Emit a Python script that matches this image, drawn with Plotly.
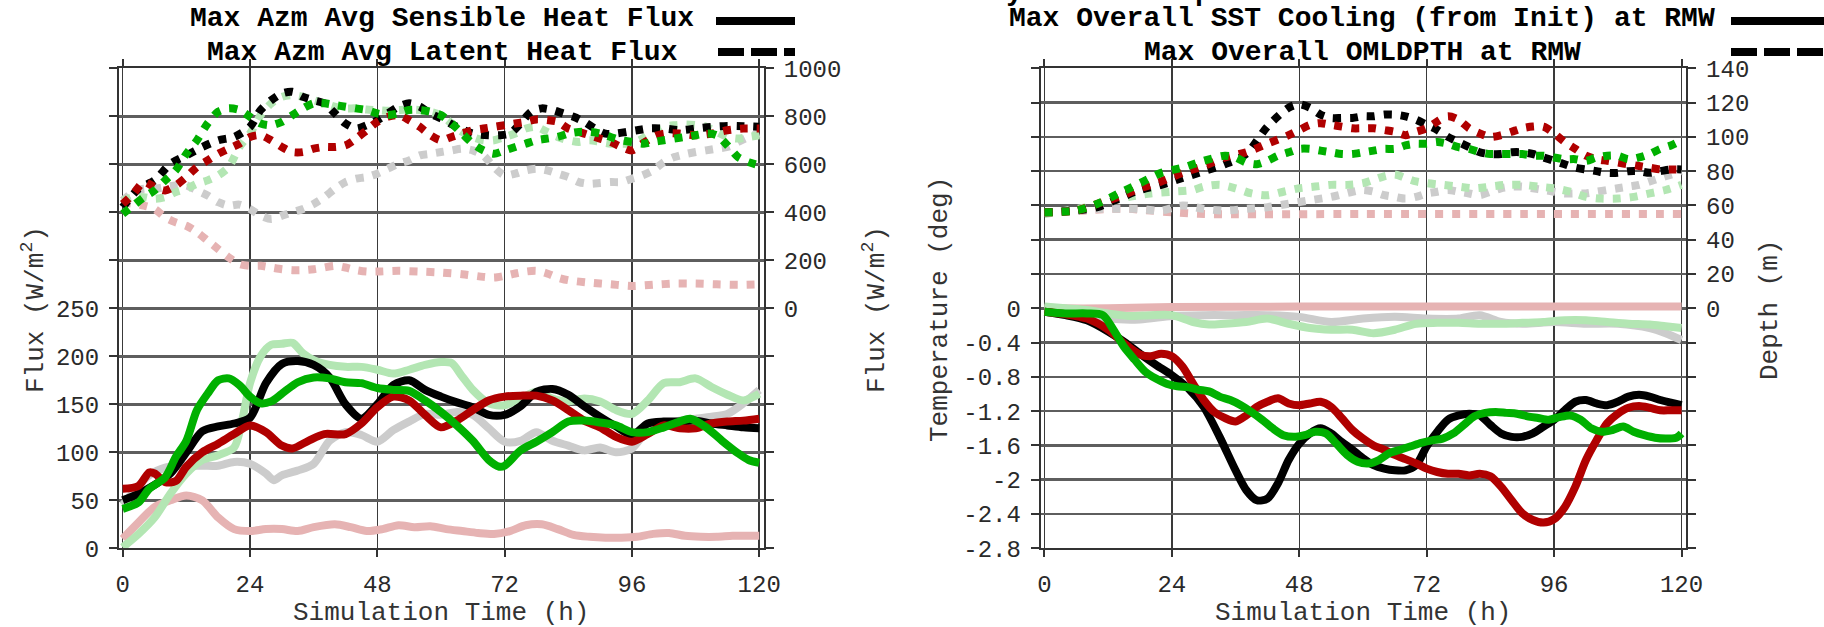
import plotly.graph_objects as go

# ---------------- data (t [h], value) ----------------
# Left panel: Max Azm Avg Sensible Heat Flux (solid, left axis, W/m2)
sens_black = [(0,50),(3,57),(6,66),(9,78),(12,100),(15,122),(18,127),(21,130),(24,136),(27,172),(30,192),(33,195),(36,191),(39,178),(42,150),(45,135),(48,150),(51,170),(54,175),(57,165),(60,158),(63,152),(66,147),(69,139),(72,139),(75,148),(78,163),(81,166),(84,160),(87,148),(90,137),(93,127),(96,118),(99,130),(102,132),(105,132),(108,133),(111,130),(114,128),(117,126),(120,125)]
sens_red = [(0,62),(3,65),(5,79),(6,78),(8,69),(10,70),(12,85),(15,100),(18,109),(21,119),(24,128),(27,121),(30,107),(32,104),(35,112),(38,119),(42,119),(45,130),(48,147),(51,158),(54,154),(57,139),(60,126),(63,133),(66,144),(69,154),(72,158),(75,159),(78,159),(81,154),(84,144),(87,133),(90,126),(93,116),(96,111),(99,119),(102,128),(105,125),(108,125),(111,130),(114,132),(117,133),(120,135)]
sens_green = [(0,41),(3,48),(5,62),(8,74),(10,95),(12,112),(14,144),(16,161),(18,175),(20,177),(22,170),(24,158),(26,151),(28,153),(30,161),(33,173),(36,178),(39,177),(42,173),(45,172),(48,167),(51,165),(54,164),(57,154),(60,142),(63,128),(66,112),(69,92),(71,85),(72,86),(75,102),(78,111),(81,121),(84,132),(87,133),(90,131),(93,128),(96,121),(99,121),(102,126),(105,132),(107,135),(110,126),(113,112),(116,99),(118,92),(120,89)]
sens_gray = [(0,45),(3,65),(5,76),(8,84),(12,86),(15,86),(18,86),(21,90),(24,88),(27,78),(28.5,71),(30,76),(33,81),(36,88),(39,112),(42,121),(45,118),(48,111),(51,123),(54,132),(57,140),(60,139),(63,142),(66,139),(69,125),(72,111),(75,112),(78,121),(81,112),(84,107),(87,102),(90,105),(93,100),(96,104),(99,123),(102,128),(105,133),(108,135),(111,137),(114,140),(117,151),(120,165)]
sens_lgreen = [(0,1),(3,15),(6,32),(9,57),(12,78),(15,92),(18,97),(21,105),(22.5,133),(24,172),(26,200),(28,212),(30,213),(32,214),(34,203),(36,196),(39,191),(42,189),(45,189),(48,186),(51,182),(54,186),(57,191),(60,194),(62,193),(64,179),(66,165),(69,151),(72,149),(75,156),(78,163),(81,156),(84,153),(87,156),(90,153),(93,144),(96,140),(99,154),(102,172),(105,173),(108,177),(111,168),(114,160),(117,154),(120,161)]
sens_pink = [(0,10),(3,27),(6,43),(9,50),(12,55),(15,50),(18,32),(21,20),(24,18),(27,20),(30,20),(33,18),(36,22),(40,25),(43,22),(46,18),(49,20),(52,24),(55,22),(58,23),(61,20),(64,18),(67,16),(70,15),(73,18),(76,24),(79,25),(82,20),(85,14),(88,12),(91,11),(94,11),(97,12),(100,15),(103,16),(106,13),(109,12),(112,12),(115,13),(118,13),(120,13)]

# Left panel: Max Azm Avg Latent Heat Flux (dotted, right axis, W/m2)
lat_black = [(0,421),(3,498),(6,533),(9,602),(12,637),(15,672),(18,700),(21,714),(24,756),(26,826),(28,867),(30,895),(32,902),(34,881),(36,867),(38,854),(40,812),(42,770),(44,749),(46,763),(48,784),(50,812),(52,840),(54,854),(56,840),(58,812),(60,791),(63,756),(66,728),(69,721),(71,721),(73,728),(75,770),(77,819),(79,833),(81,826),(83,812),(85,798),(87,777),(89,749),(91,728),(93,728),(95,735),(97,742),(99,749),(102,749),(105,742),(108,749),(111,756),(114,760),(117,759),(120,756)]
lat_red = [(0,435),(2,477),(4,526),(6,505),(8,491),(10,512),(12,547),(14,589),(16,616),(18,644),(20,665),(22,686),(24,714),(26,721),(28,700),(30,672),(32,651),(34,651),(36,665),(38,672),(40,672),(42,679),(44,707),(46,742),(48,777),(50,798),(52,805),(54,784),(56,756),(58,721),(60,700),(62,714),(64,728),(66,742),(68,749),(70,756),(72,763),(74,770),(76,777),(78,787),(80,784),(82,777),(84,749),(86,735),(88,721),(90,707),(92,693),(94,672),(96,658),(98,686),(100,714),(102,728),(105,728),(108,721),(111,728),(114,742),(117,749),(120,749)]
lat_green = [(0,393),(2,428),(4,463),(6,491),(8,533),(10,575),(12,644),(14,700),(16,770),(18,819),(20,833),(22,826),(24,798),(26,770),(28,763),(30,777),(32,805),(34,833),(36,854),(38,854),(40,847),(42,840),(44,833),(46,826),(48,812),(50,805),(52,812),(54,826),(56,826),(58,819),(60,805),(62,770),(64,728),(66,686),(68,658),(70,644),(72,658),(74,672),(76,686),(78,700),(80,707),(82,714),(84,728),(86,735),(88,735),(90,728),(92,714),(94,700),(96,693),(98,686),(100,693),(102,700),(104,707),(106,714),(108,721),(110,728),(112,721),(114,679),(116,630),(118,609),(120,596)]
lat_gray = [(0,449),(2,484),(4,498),(6,498),(8,505),(10,512),(12,512),(14,491),(16,470),(18,442),(20,428),(22,432),(24,414),(26,386),(28,372),(30,386),(32,400),(34,414),(36,435),(38,463),(40,498),(42,526),(44,540),(46,547),(48,561),(50,582),(52,602),(54,616),(56,637),(58,644),(60,651),(62,658),(64,665),(66,658),(68,637),(70,588),(72,554),(74,561),(76,575),(78,582),(80,575),(82,561),(84,547),(86,526),(88,519),(90,522),(92,526),(94,526),(96,540),(98,554),(100,575),(102,609),(104,630),(106,642),(108,651),(110,658),(112,665),(114,672),(116,693),(118,714),(120,728)]
lat_lgreen = [(0,449),(2,463),(4,463),(6,456),(8,463),(10,484),(12,498),(14,519),(16,533),(18,554),(20,589),(22,672),(24,728),(26,805),(28,854),(30,881),(32,888),(34,881),(36,867),(38,854),(40,840),(42,833),(44,833),(46,828),(48,826),(50,823),(52,826),(54,828),(56,826),(58,819),(60,805),(62,770),(64,735),(66,714),(68,700),(70,700),(72,714),(74,728),(76,749),(78,756),(80,735),(82,714),(84,700),(86,693),(88,700),(90,693),(92,686),(94,686),(96,686),(98,707),(100,735),(102,756),(104,763),(106,766),(108,763),(110,756),(112,735),(114,714),(116,707),(118,714),(120,721)]
lat_pink = [(0,442),(2,435),(4,428),(6,414),(8,379),(10,358),(12,344),(14,317),(16,282),(18,247),(20,212),(22,184),(24,177),(26,177),(28,170),(30,163),(32,159),(34,159),(36,163),(38,170),(40,177),(42,170),(44,159),(46,153),(48,153),(52,156),(56,153),(60,149),(64,142),(68,131),(70,128),(72,135),(74,145),(76,153),(78,156),(80,145),(82,128),(84,117),(88,107),(92,100),(96,93),(100,98),(104,103),(108,103),(112,100),(116,98),(120,100)]

# Right panel: Max Overall SST Cooling (from Init) at RMW (solid, left axis, deg)
sst_black = [(0,-0.04),(4,-0.08),(8,-0.14),(12,-0.27),(15,-0.39),(18,-0.53),(21,-0.66),(24,-0.78),(27,-0.93),(30,-1.15),(33,-1.50),(36,-1.89),(38,-2.12),(40,-2.24),(42,-2.22),(44,-2.04),(46,-1.77),(48,-1.58),(50,-1.46),(52,-1.40),(54,-1.46),(56,-1.56),(58,-1.65),(60,-1.75),(62,-1.83),(64,-1.87),(66,-1.89),(68,-1.89),(70,-1.83),(72,-1.61),(74,-1.44),(76,-1.30),(78,-1.25),(80,-1.23),(82,-1.25),(84,-1.36),(86,-1.46),(88,-1.50),(90,-1.50),(92,-1.46),(94,-1.38),(96,-1.30),(98,-1.19),(100,-1.09),(102,-1.07),(104,-1.11),(106,-1.13),(108,-1.09),(110,-1.03),(112,-1.01),(114,-1.03),(116,-1.07),(118,-1.10),(120,-1.13)]
sst_red = [(0,-0.04),(4,-0.07),(8,-0.12),(12,-0.25),(15,-0.41),(18,-0.54),(20,-0.56),(22,-0.53),(24,-0.56),(26,-0.68),(28,-0.88),(30,-1.07),(32,-1.21),(34,-1.28),(36,-1.32),(38,-1.25),(40,-1.15),(42,-1.09),(44,-1.05),(46,-1.11),(48,-1.13),(50,-1.11),(52,-1.09),(54,-1.15),(56,-1.28),(58,-1.42),(60,-1.52),(62,-1.60),(64,-1.65),(66,-1.71),(68,-1.76),(70,-1.81),(72,-1.87),(74,-1.91),(76,-1.93),(78,-1.93),(80,-1.95),(82,-1.93),(84,-1.96),(86,-2.08),(88,-2.24),(90,-2.39),(92,-2.47),(94,-2.50),(96,-2.46),(98,-2.32),(100,-2.08),(102,-1.77),(104,-1.54),(106,-1.34),(108,-1.23),(110,-1.16),(112,-1.14),(114,-1.16),(116,-1.19),(118,-1.19),(120,-1.19)]
sst_green = [(0,-0.04),(4,-0.06),(8,-0.06),(11,-0.08),(13,-0.25),(15,-0.45),(17,-0.60),(19,-0.74),(21,-0.82),(23,-0.88),(25,-0.91),(27,-0.92),(29,-0.95),(31,-0.97),(33,-1.03),(35,-1.07),(37,-1.13),(39,-1.21),(41,-1.30),(43,-1.40),(45,-1.48),(47,-1.50),(49,-1.48),(51,-1.44),(53,-1.46),(55,-1.58),(57,-1.71),(59,-1.79),(61,-1.81),(63,-1.77),(65,-1.69),(67,-1.65),(69,-1.61),(71,-1.57),(73,-1.54),(75,-1.52),(77,-1.46),(79,-1.36),(81,-1.26),(83,-1.22),(85,-1.21),(87,-1.22),(89,-1.23),(91,-1.26),(93,-1.28),(95,-1.30),(97,-1.27),(99,-1.25),(101,-1.30),(103,-1.40),(105,-1.44),(107,-1.42),(109,-1.38),(111,-1.44),(113,-1.48),(115,-1.51),(117,-1.52),(119,-1.51),(120,-1.46)]
sst_gray = [(0,0.0),(6,-0.06),(12,-0.12),(18,-0.13),(24,-0.09),(30,-0.08),(36,-0.08),(42,-0.08),(48,-0.10),(54,-0.16),(60,-0.12),(66,-0.10),(72,-0.12),(78,-0.12),(82,-0.08),(86,-0.16),(90,-0.18),(96,-0.16),(102,-0.18),(108,-0.18),(114,-0.23),(117,-0.29),(120,-0.37)]
sst_lgreen = [(0,0.02),(4,0.0),(8,-0.02),(12,-0.06),(16,-0.09),(20,-0.08),(24,-0.08),(28,-0.16),(31,-0.19),(34,-0.18),(38,-0.16),(42,-0.12),(46,-0.18),(50,-0.23),(54,-0.25),(58,-0.25),(62,-0.29),(66,-0.25),(70,-0.18),(74,-0.17),(78,-0.17),(82,-0.18),(86,-0.18),(90,-0.17),(94,-0.16),(98,-0.14),(102,-0.14),(106,-0.16),(110,-0.18),(114,-0.19),(117,-0.21),(120,-0.23)]
sst_pink = [(0,0.0),(12,0.0),(24,0.015),(48,0.02),(72,0.02),(96,0.02),(120,0.02)]

# Right panel: Max Overall OMLDPTH at RMW (dotted, right axis, m)
mld_black = [(0,56),(6,57),(10,59),(14,64),(18,69),(22,72),(26,76),(30,80),(34,84),(38,90),(42,106),(46,117),(48,119),(50,117),(52,113),(54,111),(56,111),(58,111),(60,112),(62,112),(64,113),(66,113),(68,112),(70,110),(72,107),(74,104),(76,100),(78,97),(80,94),(82,91),(84,90),(86,90),(88,91),(90,91),(92,90),(94,88),(96,86),(98,84),(100,82),(102,81),(104,80),(106,79),(108,79),(110,80),(112,80),(114,79),(116,80),(118,81),(120,81)]
mld_red = [(0,56),(6,57),(10,61),(14,65),(18,70),(22,74),(26,79),(30,83),(34,88),(38,91),(42,96),(46,101),(48,104),(50,107),(52,108),(54,107),(56,106),(58,105),(60,105),(62,105),(64,104),(66,103),(68,101),(70,103),(72,105),(74,109),(76,112),(78,110),(80,105),(82,102),(84,100),(86,101),(88,103),(90,105),(92,106),(94,106),(96,102),(98,97),(100,93),(102,89),(104,87),(106,86),(108,85),(110,84),(112,83),(114,82),(116,81),(118,81),(120,81)]
mld_green = [(0,56),(6,57),(10,61),(14,67),(18,73),(22,79),(26,82),(30,86),(34,89),(36,88),(38,85),(40,84),(42,86),(44,89),(46,91),(48,93),(50,93),(52,92),(54,91),(56,90),(58,90),(60,91),(62,92),(64,93),(66,93),(68,95),(70,96),(72,96),(74,97),(76,96),(78,94),(80,93),(82,91),(84,90),(86,90),(88,90),(90,90),(92,89),(94,89),(96,88),(98,87),(100,87),(102,86),(104,88),(106,89),(108,89),(110,87),(112,88),(114,90),(116,93),(118,95),(120,98)]
mld_gray = [(0,56),(6,57),(10,58),(14,58),(18,58),(22,57),(26,60),(30,58),(34,57),(38,58),(42,59),(46,61),(50,63),(54,65),(58,68),(60,69),(62,68),(64,66),(66,65),(68,64),(70,65),(72,67),(74,68),(76,69),(78,68),(80,67),(82,66),(84,68),(86,70),(88,71),(90,71),(92,70),(94,69),(96,68),(98,67),(100,67),(102,67),(104,68),(106,69),(108,70),(110,71),(112,72),(114,74),(116,76),(118,78),(120,80)]
mld_lgreen = [(0,55),(4,57),(8,59),(12,62),(16,65),(20,67),(24,68),(28,69),(30,71),(33,72),(36,70),(39,67),(42,66),(45,68),(48,70),(51,71),(54,72),(57,72),(60,73),(62,75),(64,77),(66,78),(68,76),(70,74),(72,73),(75,72),(78,71),(81,70),(84,71),(87,72),(90,72),(93,71),(96,70),(99,68),(102,65),(105,64),(108,64),(111,65),(114,67),(117,69),(120,72)]
mld_pink = [(0,56),(8,57),(12,58),(16,58),(20,57),(24,56),(30,55),(60,55),(90,55),(120,55)]

x_ticks = [0, 24, 48, 72, 96, 120]
sens_ticks = [0, 50, 100, 150, 200, 250]
lat_ticks = [0, 200, 400, 600, 800, 1000]
sst_ticks = [0, -0.4, -0.8, -1.2, -1.6, -2.0, -2.4, -2.8]
sst_ticktext = ["0", "-0.4", "-0.8", "-1.2", "-1.6", "-2", "-2.4", "-2.8"]
mld_ticks = [0, 20, 40, 60, 80, 100, 120, 140]

# ---------------- styling ----------------
W, H = 1824, 627
FONT = "Liberation Mono"
C = dict(black="#000000", red="#B00000", green="#00B000",
         gray="#CCCCCC", lgreen="#B3E6B3", pink="#E6B3B3")
DOT = "8px,9px"
LW = 8

def px(x):
    return x / W

def py(y):
    return 1 - y / H

fig = go.Figure()

def add(series, color, xa, ya, dotted):
    t = [p[0] for p in series]
    v = [p[1] for p in series]
    fig.add_trace(go.Scatter(
        x=t, y=v, xaxis=xa, yaxis=ya, mode="lines", showlegend=False,
        hoverinfo="skip",
        line=dict(color=color, width=LW, shape="spline", smoothing=0.8,
                  dash=DOT if dotted else "solid")))

order = ["pink", "gray", "lgreen", "black", "red", "green"]
sens = dict(black=sens_black, red=sens_red, green=sens_green, gray=sens_gray, lgreen=sens_lgreen, pink=sens_pink)
lat = dict(black=lat_black, red=lat_red, green=lat_green, gray=lat_gray, lgreen=lat_lgreen, pink=lat_pink)
sst = dict(black=sst_black, red=sst_red, green=sst_green, gray=sst_gray, lgreen=sst_lgreen, pink=sst_pink)
mld = dict(black=mld_black, red=mld_red, green=mld_green, gray=mld_gray, lgreen=mld_lgreen, pink=mld_pink)

for k in order:
    add(sens[k], C[k], "x", "y", False)
for k in order:
    add(lat[k], C[k], "x", "y2", True)
for k in order:
    add(sst[k], C[k], "x2", "y3", False)
for k in order:
    add(mld[k], C[k], "x2", "y4", True)

tickfont = dict(family=FONT, size=24, color="#2a2a2a")
xcommon = dict(range=[-0.7, 120.9], tickvals=x_ticks, showgrid=True,
               gridcolor="#3a3a3a", gridwidth=1.5, showline=True, linecolor="#333333",
               linewidth=2, mirror="ticks", ticks="outside", ticklen=7, tickwidth=2,
               tickcolor="#333333", tickfont=tickfont, zeroline=False,
               ticklabelstandoff=6, fixedrange=True, automargin=False)
ycommon = dict(showgrid=True, gridcolor="#5e5e5e", gridwidth=2.5, showline=True,
               linecolor="#333333", linewidth=2, mirror="ticks", ticks="outside",
               ticklen=8, tickwidth=2, tickcolor="#333333", tickfont=tickfont,
               zeroline=False, ticklabelstandoff=5, fixedrange=True, automargin=False)
ydom = [py(548.3), py(68.3)]

fig.update_layout(
    template="none",
    width=W, height=H, autosize=False,
    margin=dict(l=0, r=0, t=0, b=0, pad=0),
    paper_bgcolor="white", plot_bgcolor="white",
    xaxis=dict(domain=[px(119), px(764)], anchor="y", **xcommon),
    yaxis=dict(domain=ydom, anchor="x", range=[0, 500], tickvals=sens_ticks, **ycommon),
    yaxis2=dict(domain=ydom, anchor="x", overlaying="y", side="right",
                range=[-1000, 1000], tickvals=lat_ticks, **ycommon),
    xaxis2=dict(domain=[px(1040.7), px(1686.3)], anchor="y3", **xcommon),
    yaxis3=dict(domain=ydom, anchor="x2", range=[-2.8, 2.8], tickvals=sst_ticks,
                ticktext=sst_ticktext, **ycommon),
    yaxis4=dict(domain=ydom, anchor="x2", overlaying="y3", side="right",
                range=[-140, 140], tickvals=mld_ticks, **ycommon),
)

ann = []
def text(s, x, y, size=26, bold=False, angle=0, xanchor="center", yanchor="middle", color="#333333"):
    ann.append(dict(text=("<b>%s</b>" % s) if bold else s, x=px(x), y=py(y),
                    xref="paper", yref="paper", showarrow=False, xanchor=xanchor,
                    yanchor=yanchor, textangle=angle, borderpad=0,
                    font=dict(family=FONT, size=size, color=color)))

# titles
text("Max Azm Avg Sensible Heat Flux", 189, 19, size=28, bold=True, xanchor="left", color="#000")
text("Max Azm Avg Latent Heat Flux", 206, 52, size=28, bold=True, xanchor="left", color="#000")
text("Max Overall SST Cooling (from Init) at RMW", 1008, 19, size=28, bold=True, xanchor="left", color="#000")
text("Max Overall OMLDPTH at RMW", 1143, 52, size=28, bold=True, xanchor="left", color="#000")
# cut-off text at the very top of the right panel (only descenders visible)
text("y", 1014, 9, size=28, bold=True, yanchor="bottom", color="#000")
text("p", 1203, 9, size=28, bold=True, yanchor="bottom", color="#000")

# axis titles
text("Flux (W/m<sup>2</sup>)", 34, 310, angle=-90)
text("Flux (W/m<sup>2</sup>)", 875, 310, angle=-90)
text("Temperature (deg)", 940, 310, angle=-90)
text("Depth (m)", 1770, 310, angle=-90)
text("Simulation Time (h)", 441, 613)
text("Simulation Time (h)", 1363, 613)

fig.update_layout(annotations=ann)

shapes = []
def sample(x0, x1, y, dash):
    shapes.append(dict(type="line", xref="paper", yref="paper", x0=px(x0), x1=px(x1),
                       y0=py(y), y1=py(y), line=dict(color="black", width=8, dash=dash)))
sample(716, 795, 21, "solid")
sample(718, 795, 52, "26px,7px")
sample(1731, 1830, 21, "solid")
sample(1731, 1830, 52, "26px,7px")
fig.update_layout(shapes=shapes)

fig.write_html("out.html",
               config={"displayModeBar": False, "staticPlot": True},
               post_script="document.body.style.margin='0';"
                           "document.documentElement.style.overflow='hidden';")
